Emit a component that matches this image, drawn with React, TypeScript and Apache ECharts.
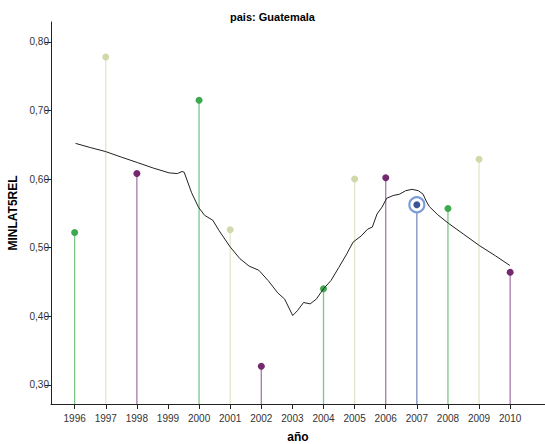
import React, { useEffect, useRef } from "react";
import * as echarts from "echarts";

const title = "pais: Guatemala";
const xName = "año";
const yName = "MINLAT5REL";

const yearTicks = [1996, 1997, 1998, 1999, 2000, 2001, 2002, 2003, 2004, 2005, 2006, 2007, 2008, 2009, 2010];
const yTicks = [0.3, 0.4, 0.5, 0.6, 0.7, 0.8];

const pointYears = [1996, 1997, 1998, 2000, 2001, 2002, 2004, 2005, 2006, 2007, 2008, 2009, 2010];
const pointValues = [0.522, 0.778, 0.608, 0.715, 0.526, 0.327, 0.44, 0.6, 0.602, 0.5625, 0.557, 0.629, 0.464];
// 0 = green, 1 = beige, 2 = purple, 3 = selected (blue)
const pointGroups = [0, 1, 2, 0, 1, 2, 0, 1, 2, 3, 0, 1, 2];

const dotColors = ["#3daa4f", "#d3d8aa", "#74296f", "#3a5499"];
const stemColors = ["#79c887", "#e3e6c8", "#a77aa8", "#7e8cbf"];
const ringColor = "#7c9cd8";

const lineYears = [
  1996.03, 1996.5, 1997.0, 1997.5, 1998.02, 1998.53, 1999.04, 1999.3, 1999.45, 1999.52,
  1999.76, 1999.98, 2000.18, 2000.44, 2000.64, 2001.0, 2001.31, 2001.61, 2001.92, 2002.22,
  2002.53, 2002.75, 2003.01, 2003.16, 2003.36, 2003.57, 2003.77, 2004.0, 2004.24, 2004.49,
  2004.75, 2004.95, 2005.21, 2005.42, 2005.57, 2005.72, 2005.88, 2006.03, 2006.24, 2006.45,
  2006.64, 2006.85, 2007.05, 2007.2, 2007.3, 2007.4, 2007.67, 2008.03, 2008.49, 2009.01,
  2009.53, 2009.99,
];
const lineValues = [
  0.652, 0.646, 0.64, 0.632, 0.624, 0.616, 0.609, 0.608, 0.611, 0.61,
  0.58, 0.559, 0.547, 0.54, 0.525, 0.501, 0.484, 0.473, 0.467, 0.452,
  0.434, 0.425, 0.401, 0.408, 0.42, 0.418, 0.425, 0.44, 0.452, 0.471,
  0.491, 0.508, 0.517, 0.527, 0.53, 0.549, 0.559, 0.572, 0.576, 0.578,
  0.583, 0.585, 0.583, 0.578, 0.568, 0.56, 0.548, 0.535, 0.52, 0.503,
  0.488, 0.474,
];

const X_MIN = 1995.24;
const X_MAX = 2011.12;
const Y_MIN = 0.272;
const Y_MAX = 0.829;

const FONT = "Liberation Sans";

export default function App() {
  const ref = useRef<HTMLDivElement>(null);

  useEffect(() => {
    if (!ref.current) return;
    const chart = echarts.init(ref.current, undefined, { renderer: "svg" });

    const pointData = pointYears.map((y, i) => [y, pointValues[i], pointGroups[i]]);
    const lineData = lineYears.map((y, i) => [y, lineValues[i]]);

    chart.setOption({
      animation: false,
      backgroundColor: "#ffffff",
      title: {
        text: title,
        left: "center",
        top: 6,
        textStyle: { fontFamily: FONT, fontSize: 11, fontWeight: "bold", color: "#000" },
      },
      grid: { left: 51, right: 0, top: 22, bottom: 40, containLabel: false, outerBoundsMode: "none" },
      xAxis: {
        type: "value",
        min: X_MIN,
        max: X_MAX,
        name: xName,
        nameLocation: "middle",
        nameGap: 27,
        nameTextStyle: { fontFamily: FONT, fontSize: 12, fontWeight: "bold", color: "#000" },
        splitLine: { show: false },
        axisLine: { show: true, lineStyle: { color: "#222", width: 1 } },
        axisTick: { show: true, length: 5, customValues: yearTicks, lineStyle: { color: "#222" } },
        axisLabel: {
          customValues: yearTicks,
          formatter: (v: number) => String(Math.round(v)),
          fontFamily: FONT,
          fontSize: 10,
          color: "#333",
          margin: 9,
        },
      },
      yAxis: {
        type: "value",
        min: Y_MIN,
        max: Y_MAX,
        name: yName,
        nameLocation: "middle",
        nameGap: 25,
        nameTextStyle: { fontFamily: FONT, fontSize: 12, fontWeight: "bold", color: "#000" },
        splitLine: { show: false },
        axisLine: { show: true, lineStyle: { color: "#222", width: 1 } },
        axisTick: { show: true, length: 6, customValues: yTicks, lineStyle: { color: "#222" } },
        axisLabel: {
          customValues: yTicks,
          formatter: (v: number) => v.toFixed(2).replace(".", ","),
          fontFamily: FONT,
          fontSize: 10,
          color: "#333",
          margin: 2,
        },
      },
      series: [
        {
          type: "custom",
          z: 2,
          data: pointData,
          encode: { x: 0, y: 1 },
          renderItem: (params: any, api: any) => {
            const x = api.value(0);
            const y = api.value(1);
            const g = api.value(2);
            const top = api.coord([x, y]);
            const base = api.coord([x, Y_MIN]);
            const children: any[] = [
              {
                type: "line",
                shape: { x1: top[0], y1: top[1], x2: base[0], y2: base[1] },
                style: { stroke: stemColors[g], lineWidth: 1.3 },
              },
            ];
            if (g === 3) {
              children.push({
                type: "circle",
                shape: { cx: top[0], cy: top[1], r: 7.5 },
                style: { fill: "#ffffff", stroke: ringColor, lineWidth: 2.2 },
                z2: 5,
              });
            }
            children.push({
              type: "circle",
              shape: { cx: top[0], cy: top[1], r: 3.5 },
              style: { fill: dotColors[g] },
              z2: 6,
            });
            return { type: "group", children };
          },
        },
        {
          type: "line",
          z: 3,
          data: lineData,
          showSymbol: false,
          symbol: "none",
          smooth: false,
          lineStyle: { color: "#222", width: 1 },
        },
      ],
    });

    return () => chart.dispose();
  }, []);

  return (
    <div
      ref={ref}
      style={{ position: "fixed", left: 0, top: 0, width: 545, height: 444, background: "#fff" }}
    />
  );
}
